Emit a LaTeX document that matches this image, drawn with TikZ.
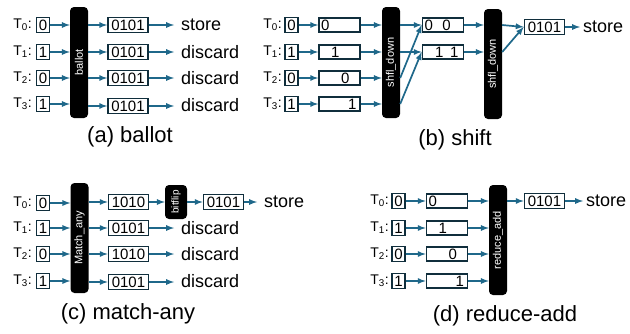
\documentclass[tikz,border=0pt]{standalone}
\usepackage{fontspec}
\setmainfont{Liberation Sans}
\usetikzlibrary{positioning, shapes, arrows}
\definecolor{arrowblue}{RGB}{31,104,138}
\definecolor{boxnavy}{RGB}{16,46,60}
\tikzset{
  bit/.style={draw=boxnavy, line width=1.7pt, inner sep=0pt, minimum width=13pt, minimum height=15pt, font=\fontsize{15}{15}\selectfont},
  word/.style={bit, minimum width=40pt},
  lane/.style={bit, inner xsep=2pt, text width=37pt, align=left, minimum height=14pt},
  warp/.style={fill=black, rounded corners=4pt, rotate=90, inner sep=0pt, text=white, minimum height=18pt, font=\fontsize{11}{11}\selectfont},
  tid/.style={anchor=east, inner sep=0pt, font=\fontsize{14}{14}\selectfont},
  fate/.style={anchor=west, inner xsep=7pt, inner ysep=0pt, font=\fontsize{18}{18}\selectfont},
  caption/.style={font=\fontsize{22}{22}\selectfont},
  link/.style={draw=arrowblue, line width=1.7pt, -latex}
}

\begin{document}
\begin{tikzpicture}[x=1pt, y=-1pt]
\useasboundingbox (0,0) rectangle (630,333);
% (a) ballot
\node[tid] (ta0) at (32,25) {T\textsubscript{0}:};
\node[tid] (ta1) at (32,52) {T\textsubscript{1}:};
\node[tid] (ta2) at (32,78) {T\textsubscript{2}:};
\node[tid] (ta3) at (32,104) {T\textsubscript{3}:};
\node[bit] (ia0) at (43,25) {0};
\node[bit] (ia1) at (43,52) {1};
\node[bit] (ia2) at (43,78) {0};
\node[bit] (ia3) at (43,104) {1};
\node[warp, minimum width=111pt] (ballot) at (79,62.5) {ballot};
\node[word] (oa0) at (128,25) {0101};
\node[word] (oa1) at (128,52) {0101};
\node[word] (oa2) at (128,78) {0101};
\node[word] (oa3) at (128,106) {0101};
\node[fate] (sa0) at (174,25) {store};
\node[fate] (sa1) at (174,52) {discard};
\node[fate] (sa2) at (174,78) {discard};
\node[fate] (sa3) at (174,105) {discard};
\draw[link] (ia0) -- (ia0 -| ballot.north);
\draw[link] (ia1) -- (ia1 -| ballot.north);
\draw[link] (ia2) -- (ia2 -| ballot.north);
\draw[link] (ia3) -- (ia3 -| ballot.north);
\draw[link] (oa0 -| ballot.south) -- (oa0);
\draw[link] (oa1 -| ballot.south) -- (oa1);
\draw[link] (oa2 -| ballot.south) -- (oa2);
\draw[link] (oa3 -| ballot.south) -- (oa3);
\draw[link] (oa0) -- (oa0 -| sa0.west);
\draw[link] (oa1) -- (oa1 -| sa1.west);
\draw[link] (oa2) -- (oa2 -| sa2.west);
\draw[link] (oa3) -- (oa3 -| sa3.west);
\node[caption] (capa) at (130,137) {(a) ballot};

% (b) shift
\node[tid] (tb0) at (282,25) {T\textsubscript{0}:};
\node[tid] (tb1) at (282,52) {T\textsubscript{1}:};
\node[tid] (tb2) at (282,78) {T\textsubscript{2}:};
\node[tid] (tb3) at (282,104) {T\textsubscript{3}:};
\node[bit] (ib0) at (291.5,25) {0};
\node[bit] (ib1) at (291.5,52) {1};
\node[bit] (ib2) at (291.5,78) {0};
\node[bit] (ib3) at (291.5,104) {1};
\node[lane] (lb0) at (339.5,25) {0};
\node[lane] (lb1) at (339.5,52) {\hspace*{10pt}1};
\node[lane] (lb2) at (339.5,78) {\hspace*{20pt}0};
\node[lane] (lb3) at (339.5,104) {\hspace*{27pt}1};
\node[warp, minimum width=111pt] (shfla) at (391,62.5) {shfl\_down};
\node[lane] (pb0) at (443,25) {0\hspace{9.5pt}0};
\node[lane] (pb1) at (443,52) {\hspace*{10.5pt}1\hspace{6.7pt}1};
\node[warp, minimum width=110pt] (shflb) at (493,64) {shfl\_down};
\node[word] (ob) at (544.5,27) {0101};
\node[fate, inner xsep=3pt] (sb) at (580,27) {store};
\draw[link] (ib0) -- (lb0);
\draw[link] (ib1) -- (lb1);
\draw[link] (ib2) -- (lb2);
\draw[link] (ib3) -- (lb3);
\draw[link] (lb0) -- (lb0 -| shfla.north);
\draw[link] (lb1) -- (lb1 -| shfla.north);
\draw[link] (lb2) -- (lb2 -| shfla.north);
\draw[link] (lb3) -- (lb3 -| shfla.north);
\draw[link] (lb0 -| shfla.south) -- (pb0.west);
\draw[link] (lb1 -| shfla.south) -- (pb1.west);
\draw[link] (lb2 -| shfla.south) -- (pb0.west);
\draw[link] (lb3 -| shfla.south) -- (pb1.west);
\draw[link] (pb0) -- (pb0 -| shflb.north);
\draw[link] (pb1) -- (pb1 -| shflb.north);
\draw[link] (pb0 -| shflb.south) -- (ob.west);
\draw[link] (pb1 -| shflb.south) -- (ob.west);
\draw[link] (ob) -- (ob -| sb.west);
\node[caption] (capb) at (455,140) {(b) shift};

% (c) match-any
\node[tid] (tc0) at (32,203) {T\textsubscript{0}:};
\node[tid] (tc1) at (32,228) {T\textsubscript{1}:};
\node[tid] (tc2) at (32,254) {T\textsubscript{2}:};
\node[tid] (tc3) at (32,281) {T\textsubscript{3}:};
\node[bit] (ic0) at (43,203) {0};
\node[bit] (ic1) at (43,228) {1};
\node[bit] (ic2) at (43,254) {0};
\node[bit] (ic3) at (43,281) {1};
\node[warp, minimum width=110pt] (matchany) at (79.5,238) {Match\_any};
\node[word] (oc0) at (128.5,202) {1010};
\node[word] (oc1) at (128.5,228) {0101};
\node[word] (oc2) at (128.5,254) {1010};
\node[word] (oc3) at (128.5,282) {0101};
\node[warp, minimum width=34pt, minimum height=22pt, font=\fontsize{10}{10}\selectfont] (bitflip) at (176,202) {bitflip};
\node[word] (fc) at (223.5,202) {0101};
\node[fate] (sc0) at (257,202) {store};
\node[fate] (sc1) at (174,228) {discard};
\node[fate] (sc2) at (174,254) {discard};
\node[fate] (sc3) at (174,281) {discard};
\draw[link] (ic0) -- (ic0 -| matchany.north);
\draw[link] (ic1) -- (ic1 -| matchany.north);
\draw[link] (ic2) -- (ic2 -| matchany.north);
\draw[link] (ic3) -- (ic3 -| matchany.north);
\draw[link] (oc0 -| matchany.south) -- (oc0);
\draw[link] (oc1 -| matchany.south) -- (oc1);
\draw[link] (oc2 -| matchany.south) -- (oc2);
\draw[link] (oc3 -| matchany.south) -- (oc3);
\draw[link] (oc0) -- (bitflip);
\draw[link] (bitflip) -- (fc);
\draw[link] (fc) -- (fc -| sc0.west);
\draw[link] (oc1) -- (oc1 -| sc1.west);
\draw[link] (oc2) -- (oc2 -| sc2.west);
\draw[link] (oc3) -- (oc3 -| sc3.west);
\node[caption] (capc) at (128,314) {(c) match-any};

% (d) reduce-add
\node[tid] (td0) at (389,201) {T\textsubscript{0}:};
\node[tid] (td1) at (389,228) {T\textsubscript{1}:};
\node[tid] (td2) at (389,254) {T\textsubscript{2}:};
\node[tid] (td3) at (389,281) {T\textsubscript{3}:};
\node[bit] (id0) at (398.5,201) {0};
\node[bit] (id1) at (398.5,228) {1};
\node[bit] (id2) at (398.5,254) {0};
\node[bit] (id3) at (398.5,281) {1};
\node[lane] (ld0) at (447,201) {0};
\node[lane] (ld1) at (447,228) {\hspace*{10pt}1};
\node[lane] (ld2) at (447,254) {\hspace*{20pt}0};
\node[lane] (ld3) at (447,281) {\hspace*{27pt}1};
\node[warp, minimum width=110pt] (reduceadd) at (498,240) {reduce\_add};
\node[word] (od) at (544.5,201) {0101};
\node[fate, inner xsep=3pt] (sd) at (583,201) {store};
\draw[link] (id0) -- (ld0);
\draw[link] (id1) -- (ld1);
\draw[link] (id2) -- (ld2);
\draw[link] (id3) -- (ld3);
\draw[link] (ld0) -- (ld0 -| reduceadd.north);
\draw[link] (ld1) -- (ld1 -| reduceadd.north);
\draw[link] (ld2) -- (ld2 -| reduceadd.north);
\draw[link] (ld3) -- (ld3 -| reduceadd.north);
\draw[link] (od -| reduceadd.south) -- (od);
\draw[link] (od) -- (od -| sd.west);
\node[caption] (capd) at (505,316) {(d) reduce-add};
\end{tikzpicture}
\end{document}
